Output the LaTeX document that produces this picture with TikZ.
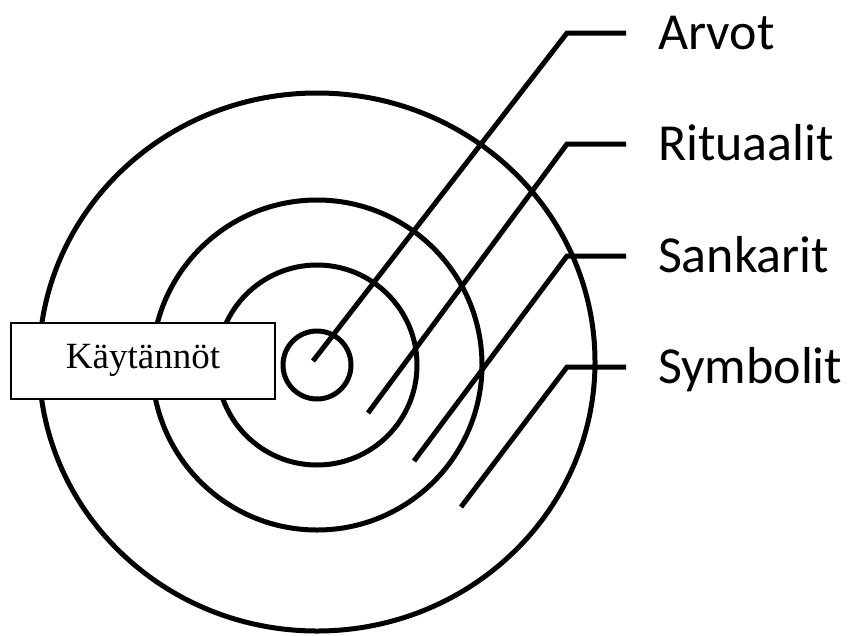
\documentclass[tikz,border=0pt]{standalone}
\usepackage{fontspec}
\setmainfont{Liberation Serif}
\newfontfamily\labelfont{Carlito}
\usepackage{tikz}
\usetikzlibrary{shapes.geometric, positioning}
\tikzset{
  ring/.style={circle, draw=black, line width=5pt, inner sep=0pt},
  leader/.style={draw=black, line width=5pt},
  layerlabel/.style={anchor=west, inner sep=0pt, outer sep=32pt,
    font=\labelfont\fontsize{52}{60}\selectfont,
    text height=33pt, text depth=0pt},
  practicebox/.style={rectangle, draw=black, fill=white, line width=2pt,
    minimum width=264pt, minimum height=76pt, inner sep=0pt,
    font=\fontsize{37}{44}\selectfont, text height=25pt, text depth=11pt}
}
\begin{document}
\begin{tikzpicture}[x=1pt, y=-1pt]
  \useasboundingbox (0,0) rectangle (850,635);
  % Onion layers
  \node[ellipse, draw=black, line width=5pt, inner sep=0pt,
    minimum width=556pt, minimum height=538pt] (symbolitring) at (317,362) {};
  \node[ring, minimum size=330pt] (sankaritring) at (317,365) {};
  \node[ring, minimum size=200pt] (rituaalitring) at (317,365) {};
  \node[ring, minimum size=68pt] (arvotring) at (317,365) {};
  % Labels
  \node[layerlabel] (arvot) at (626,33) {Arvot};
  \node[layerlabel] (rituaalit) at (626,144) {Rituaalit};
  \node[layerlabel] (sankarit) at (626,256) {Sankarit};
  \node[layerlabel] (symbolit) at (626,367) {Symbolit};
  % Leader lines
  \coordinate (arvotin) at (313,361);
  \coordinate (arvotknee) at (567,33);
  \coordinate (rituaalitin) at (368,413);
  \coordinate (rituaalitknee) at (567,144);
  \coordinate (sankaritin) at (414,461);
  \coordinate (sankaritknee) at (567,256);
  \coordinate (symbolitin) at (461,507);
  \coordinate (symbolitknee) at (567,367);
  \draw[leader] (arvotin) -- (arvotknee) -- (arvot.west);
  \draw[leader] (rituaalitin) -- (rituaalitknee) -- (rituaalit.west);
  \draw[leader] (sankaritin) -- (sankaritknee) -- (sankarit.west);
  \draw[leader] (symbolitin) -- (symbolitknee) -- (symbolit.west);
  % Practices box
  \node[practicebox] (kaytannot) at (143,361) {Käytännöt};
\end{tikzpicture}
\end{document}
